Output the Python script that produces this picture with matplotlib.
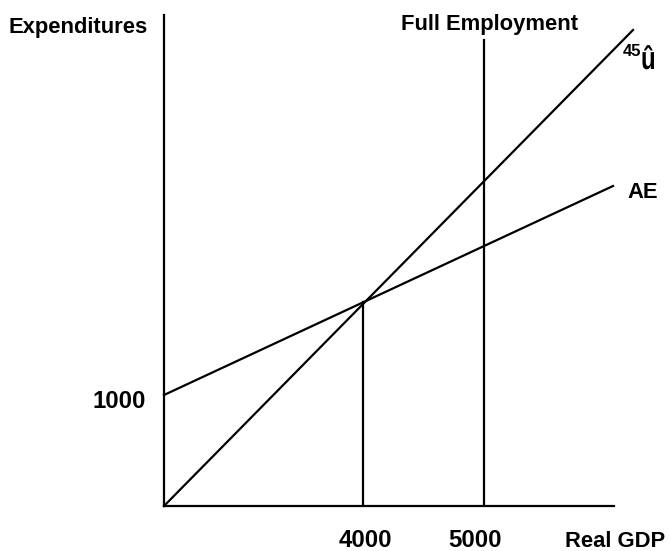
import matplotlib.pyplot as plt
from matplotlib.textpath import TextPath
from matplotlib.patches import PathPatch
from matplotlib.font_manager import FontProperties
from matplotlib.transforms import Affine2D

# schematic Keynesian cross, drawn in diagram units (origin at bottom-left of the axes)
gdp_labels = ['4000', '5000']
gdp_pos = [199, 320]          # equilibrium GDP, full employment GDP
ae_label = '1000'
ae_x = [0, 449]
ae_y = [111, 320]
line45_x = [0, 469]
line45_y = [0, 476]
fe_top = 466

plt.rcParams['font.family'] = ['Liberation Sans', 'DejaVu Sans']

fig = plt.figure(figsize=(6.71, 5.51), dpi=100)
ax = fig.add_axes([164 / 671, 45 / 551, 450 / 671, 491 / 551])
ax.set_xlim(0, 450)
ax.set_ylim(0, 491)
for s in ['top', 'right']:
    ax.spines[s].set_visible(False)
for s in ['left', 'bottom']:
    ax.spines[s].set_linewidth(1.6)
ax.set_xticks([])
ax.set_yticks([])

lw = 1.6
ax.plot(line45_x, line45_y, color='black', lw=lw, clip_on=False)
ax.plot(ae_x, ae_y, color='black', lw=lw, clip_on=False)

# equilibrium drop line up to the AE curve, full employment line to the top
slope = (ae_y[1] - ae_y[0]) / (ae_x[1] - ae_x[0])
eq_y = ae_y[0] + slope * gdp_pos[0]
ax.plot([gdp_pos[0], gdp_pos[0]], [0, eq_y], color='black', lw=lw)
ax.plot([gdp_pos[1], gdp_pos[1]], [0, fe_top], color='black', lw=lw)

fs = 15.8
nfs = 17.3
ax.text(gdp_pos[0] + 2, -41, gdp_labels[0], ha='center', va='baseline', fontsize=nfs, fontweight='bold', clip_on=False)
ax.text(gdp_pos[1] - 9, -41, gdp_labels[1], ha='center', va='baseline', fontsize=nfs, fontweight='bold', clip_on=False)
ax.text(-18, ae_y[0] - 13, ae_label, ha='right', va='baseline', fontsize=nfs, fontweight='bold', clip_on=False)

ax.text(401 - 164, 506 - 30, 'Full Employment', ha='left', va='baseline', fontsize=fs, fontweight='bold', clip_on=False)
ax.text(8 - 164, 506 - 33, 'Expenditures', ha='left', va='baseline', fontsize=fs, fontweight='bold', clip_on=False)
ax.text(565 - 164, -41, 'Real GDP', ha='left', va='baseline', fontsize=fs, fontweight='bold', clip_on=False)
ax.text(627 - 164, 506 - 198, 'AE', ha='left', va='baseline', fontsize=fs, fontweight='bold', clip_on=False)
ax.text(623 - 164, 506 - 56, '45', ha='left', va='baseline', fontsize=12, fontweight='bold', clip_on=False)

# the degree sign shows up as a tall narrow "û"
tp = TextPath((0, 0), 'û', size=32, prop=FontProperties(family='Liberation Sans', weight='bold'))
tr = Affine2D().scale(0.75, 1.0).translate(641 - 164, 506 - 69) + ax.transData
ax.add_patch(PathPatch(tp, color='black', lw=0, transform=tr, clip_on=False))

fig.savefig('out.png', dpi=100)
